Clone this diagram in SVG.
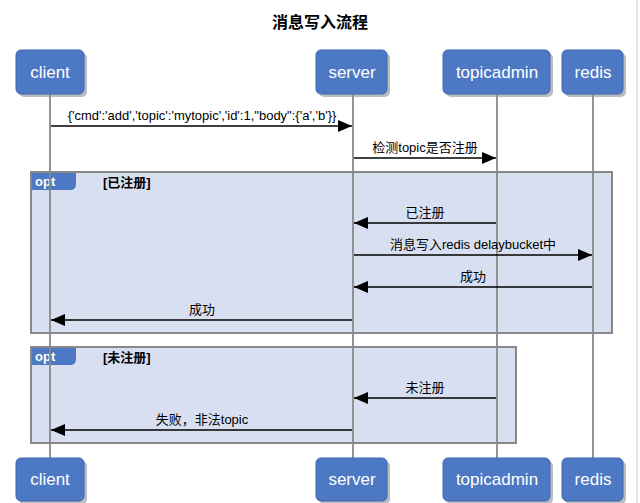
<svg xmlns="http://www.w3.org/2000/svg" width="640" height="503" viewBox="0 0 640 503">
<defs>
<style>
.title{font-family:"Liberation Sans","Noto Sans CJK SC",sans-serif;font-size:16px;font-weight:bold;fill:#000;text-anchor:middle}
.box{fill:#4d78c3;stroke:#3f66ad;stroke-width:1}
.shadow{fill:#8a8f99;opacity:0.6}
.ptxt{font-family:"Liberation Sans","Noto Sans CJK SC",sans-serif;font-size:17px;fill:#fff;text-anchor:middle}
.life{stroke:#888;stroke-width:1.8;fill:none}
.frame{fill:#d7dff0;stroke:#888;stroke-width:2}
.tab{fill:#4d78c3}
.opt{font-family:"Liberation Sans",sans-serif;font-size:13px;font-weight:bold;fill:#fff}
.guard{font-family:"Liberation Sans","Noto Sans CJK SC",sans-serif;font-size:13px;font-weight:bold;fill:#000}
.msg{stroke:#000;stroke-width:1.6;fill:none;marker-end:url(#ah)}
.lbl{font-family:"Liberation Sans","Noto Sans CJK SC",sans-serif;font-size:13px;fill:#000;text-anchor:middle}
</style>
<marker id="ah" viewBox="0 0 14 12" refX="14" refY="6" markerWidth="14" markerHeight="12" markerUnits="userSpaceOnUse" orient="auto">
<path d="M0,0 L14,6 L0,12 Z" fill="#000"/>
</marker>
</defs>
<rect width="640" height="503" fill="#fff"/>
<line x1="637" y1="0" x2="637" y2="503" stroke="#d0d0d0" stroke-width="1"/>
<text class="title" x="320" y="28">消息写入流程</text>

<g id="frames">
<rect class="frame" x="31" y="172" width="581" height="161"/>
<path class="tab" d="M32,173 H76 V184 Q76,190 70,190 H32 Z"/>
<text class="opt" x="35" y="186">opt</text>
<text class="guard" x="103" y="187">[已注册]</text>
<rect class="frame" x="31" y="347" width="485" height="96"/>
<path class="tab" d="M32,348 H76 V359 Q76,365 70,365 H32 Z"/>
<text class="opt" x="35" y="361">opt</text>
<text class="guard" x="103" y="362">[未注册]</text>
</g>

<g id="lifelines">
<line class="life" x1="50" y1="94" x2="50" y2="458"/>
<line class="life" x1="353" y1="94" x2="353" y2="458"/>
<line class="life" x1="497" y1="94" x2="497" y2="458"/>
<line class="life" x1="593" y1="94" x2="593" y2="458"/>
</g>

<g id="client-top"><rect class="shadow" x="19" y="53" width="68" height="44" rx="5"/><rect class="box" x="16" y="50" width="68" height="44" rx="5"/><text class="ptxt" x="50" y="78">client</text></g>
<g id="server-top"><rect class="shadow" x="319" y="53" width="71" height="44" rx="5"/><rect class="box" x="316" y="50" width="71" height="44" rx="5"/><text class="ptxt" x="352" y="78">server</text></g>
<g id="topicadmin-top"><rect class="shadow" x="446" y="53" width="107" height="44" rx="5"/><rect class="box" x="443" y="50" width="107" height="44" rx="5"/><text class="ptxt" x="497" y="78">topicadmin</text></g>
<g id="redis-top"><rect class="shadow" x="565" y="53" width="61" height="44" rx="5"/><rect class="box" x="562" y="50" width="61" height="44" rx="5"/><text class="ptxt" x="593" y="78">redis</text></g>

<g id="client-bottom"><rect class="shadow" x="19" y="461" width="68" height="43" rx="5"/><rect class="box" x="16" y="458" width="68" height="43" rx="5"/><text class="ptxt" x="50" y="485">client</text></g>
<g id="server-bottom"><rect class="shadow" x="319" y="461" width="71" height="43" rx="5"/><rect class="box" x="316" y="458" width="71" height="43" rx="5"/><text class="ptxt" x="352" y="485">server</text></g>
<g id="topicadmin-bottom"><rect class="shadow" x="446" y="461" width="107" height="43" rx="5"/><rect class="box" x="443" y="458" width="107" height="43" rx="5"/><text class="ptxt" x="497" y="485">topicadmin</text></g>
<g id="redis-bottom"><rect class="shadow" x="565" y="461" width="61" height="43" rx="5"/><rect class="box" x="562" y="458" width="61" height="43" rx="5"/><text class="ptxt" x="593" y="485">redis</text></g>

<g id="messages">
<line class="msg" x1="51" y1="126" x2="352" y2="126"/>
<text class="lbl" x="202" y="120">{'cmd':'add','topic':'mytopic','id':1,"body":{'a','b'}}</text>
<line class="msg" x1="354" y1="158" x2="496" y2="158"/>
<text class="lbl" x="425" y="152">检测topic是否注册</text>
<line class="msg" x1="496" y1="223" x2="354" y2="223"/>
<text class="lbl" x="425" y="217">已注册</text>
<line class="msg" x1="354" y1="255" x2="592" y2="255"/>
<text class="lbl" x="473" y="249">消息写入redis delaybucket中</text>
<line class="msg" x1="592" y1="287" x2="354" y2="287"/>
<text class="lbl" x="473" y="281">成功</text>
<line class="msg" x1="352" y1="320" x2="51" y2="320"/>
<text class="lbl" x="202" y="314">成功</text>
<line class="msg" x1="496" y1="398" x2="354" y2="398"/>
<text class="lbl" x="425" y="392">未注册</text>
<line class="msg" x1="352" y1="430" x2="51" y2="430"/>
<text class="lbl" x="202" y="424">失败，非法topic</text>
</g>
</svg>
